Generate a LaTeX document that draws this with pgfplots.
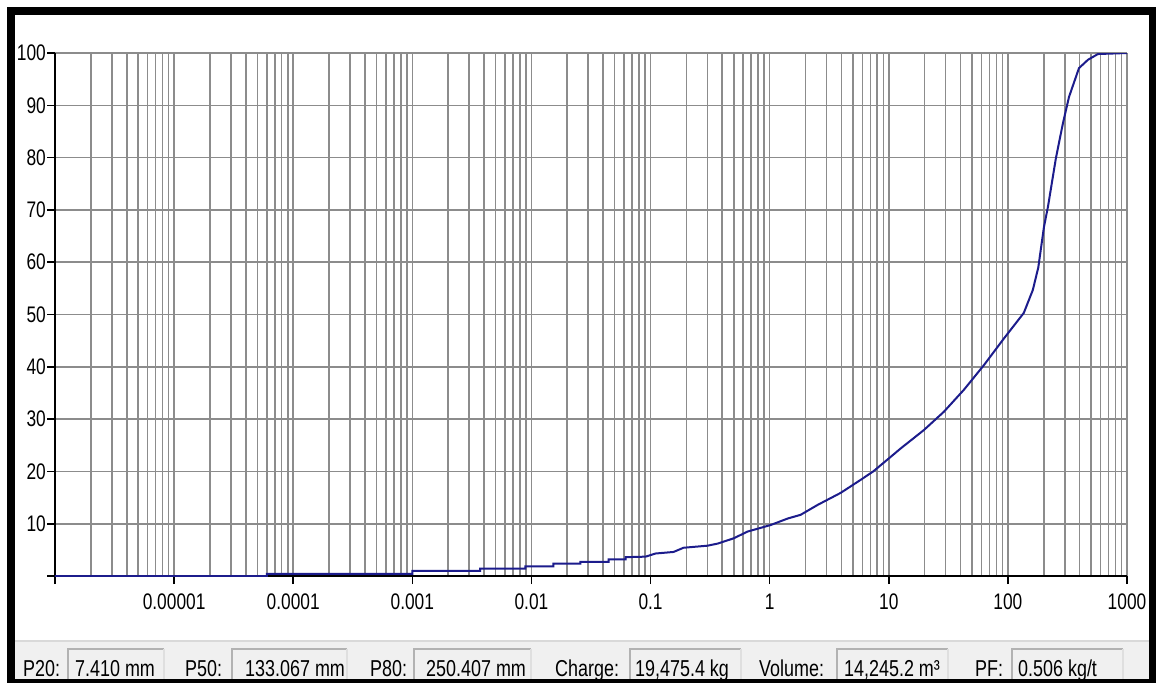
\documentclass[border=0pt]{standalone}
\usepackage{pgfplots}
\pgfplotsset{compat=1.18}
\usepackage{fontspec}
\setmainfont{Liberation Sans}
\newfontfamily\tickfont{Liberation Sans}[FakeStretch=0.77]
\newfontfamily\panelfont{Liberation Sans}[FakeStretch=0.78]
\definecolor{gridgray}{RGB}{140,140,140}
\definecolor{curveblue}{RGB}{28,28,140}
\definecolor{panelgray}{RGB}{240,240,240}
\newcommand{\pf}{\panelfont\fontsize{23bp}{26bp}\selectfont}

\begin{document}
\begin{tikzpicture}[x=1bp,y=1bp]
\useasboundingbox (0,0) rectangle (1156,-683);
\fill[white] (0,0) rectangle (1156,-683);

% status panel
\fill[panelgray] (15,-641) rectangle (1150,-683);
\draw[gray!30, line width=1.2bp] (15,-641) -- (1150,-641);
\foreach \a/\b in {68/164, 232/347, 414/531, 630/741, 837/948, 1012/1123}{
  \draw[gray!60, line width=1.4bp] (\a,-683) -- (\a,-649) -- (\b,-649);
  \draw[gray!25, line width=1.4bp] (\b,-649) -- (\b,-683);
}
\node[anchor=base west, inner sep=0pt, font=\pf] at (23,-676) {P20:};
\node[anchor=base west, inner sep=0pt, font=\pf] at (75,-676) {7.410 mm};
\node[anchor=base west, inner sep=0pt, font=\pf] at (185,-676) {P50:};
\node[anchor=base west, inner sep=0pt, font=\pf] at (245,-676) {133.067 mm};
\node[anchor=base west, inner sep=0pt, font=\pf] at (370,-676) {P80:};
\node[anchor=base west, inner sep=0pt, font=\pf] at (426,-676) {250.407 mm};
\node[anchor=base west, inner sep=0pt, font=\pf] at (555,-676) {Charge:};
\node[anchor=base west, inner sep=0pt, font=\pf] at (635,-676) {19,475.4 kg};
\node[anchor=base west, inner sep=0pt, font=\pf] at (759,-676) {Volume:};
\node[anchor=base west, inner sep=0pt, font=\pf] at (844,-676) {14,245.2 m³};
\node[anchor=base west, inner sep=0pt, font=\pf] at (975,-676) {PF:};
\node[anchor=base west, inner sep=0pt, font=\pf] at (1018,-676) {0.506 kg/t};

\begin{axis}[
    at={(55bp,-576bp)}, anchor=south west,
    scale only axis, width=1072bp, height=523bp,
    xmode=log, xmin=1e-6, xmax=1000, ymin=0, ymax=100,
    axis lines=left,
    axis line style={-, black, line width=2bp},
    xtick={1e-6,1e-5,1e-4,1e-3,1e-2,1e-1,1,10,100,1000},
    xticklabels={,0.00001,0.0001,0.001,0.01,0.1,1,10,100,1000},
    minor xtick={2e-6,3e-6,4e-6,5e-6,6e-6,7e-6,8e-6,9e-6,
                 2e-5,3e-5,4e-5,5e-5,6e-5,7e-5,8e-5,9e-5,
                 2e-4,3e-4,4e-4,5e-4,6e-4,7e-4,8e-4,9e-4,
                 2e-3,3e-3,4e-3,5e-3,6e-3,7e-3,8e-3,9e-3,
                 0.02,0.03,0.04,0.05,0.06,0.07,0.08,0.09,
                 0.2,0.3,0.4,0.5,0.6,0.7,0.8,0.9,
                 2,3,4,5,6,7,8,9,
                 20,30,40,50,60,70,80,90,
                 200,300,400,500,600,700,800,900},
    ytick={0,10,20,30,40,50,60,70,80,90,100},
    yticklabels={,10,20,30,40,50,60,70,80,90,100},
    grid=both,
    major grid style={gridgray, line width=1.6bp},
    minor grid style={gridgray, line width=1.6bp},
    tick align=outside,
    major tick length=8bp,
    minor tick length=0bp,
    major tick style={black, line width=1.6bp},
    xticklabel style={font=\tickfont\fontsize{22.5bp}{25bp}\selectfont, text=black, yshift=-6bp},
    yticklabel style={font=\tickfont\fontsize{22.5bp}{25bp}\selectfont, text=black, inner xsep=1bp},
  ]
\addplot[curveblue, line width=2bp] coordinates {
  (1e-6,0) (6.0e-5,0) (6.0e-5,0.4) (0.001,0.4) (0.001,1.0)
  (0.0037,1.0) (0.0037,1.4) (0.0089,1.4) (0.0089,1.85)
  (0.0153,1.85) (0.0153,2.35) (0.0258,2.35) (0.0258,2.7)
  (0.0444,2.7) (0.0444,3.2) (0.0617,3.2) (0.0617,3.6)
  (0.0908,3.7) (0.11,4.3) (0.156,4.6) (0.189,5.4) (0.301,5.8)
  (0.366,6.2) (0.498,7.2) (0.653,8.5) (1.02,9.75) (1.42,11.0)
  (1.82,11.7) (2.53,13.6) (3.95,15.9) (5.82,18.4) (7.41,20.0)
  (10.4,22.8) (12.6,24.4) (19.7,27.9) (29.0,31.4) (42.7,35.6)
  (62.8,40.3) (92.5,45.4) (136,50.3) (162,54.7) (180,59.0)
  (201,66.8) (217,70.6) (253,79.9) (290,86.6) (326,91.6)
  (395,97.1) (470,98.7) (570,99.8) (1000,100)
};
\end{axis}

% window frame
\draw[black, line width=8bp] (11,-11) rectangle (1153,-683);
\end{tikzpicture}
\end{document}
